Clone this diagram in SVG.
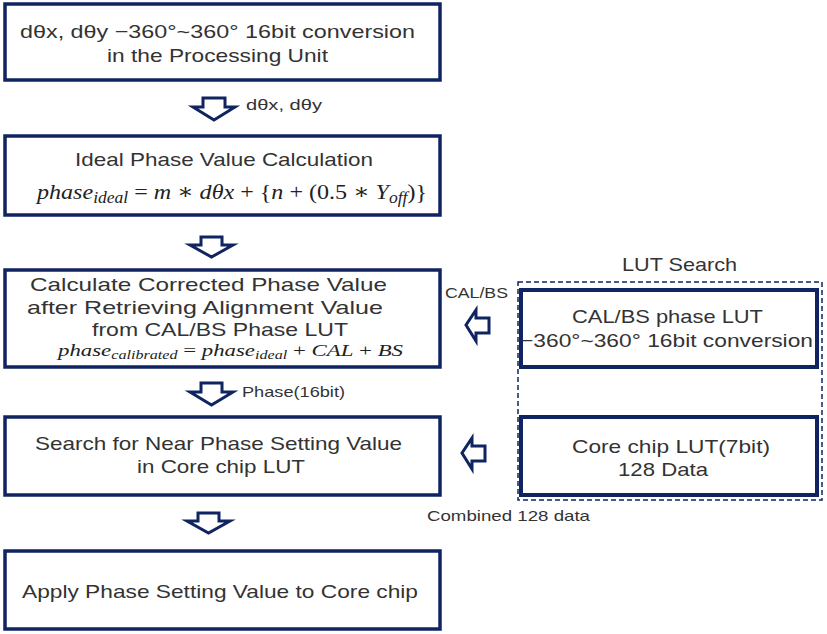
<svg xmlns="http://www.w3.org/2000/svg" width="827" height="634" viewBox="0 0 827 634">
<style>
.box{fill:#fff;stroke:#0f2461;stroke-width:3.5}
.lut{fill:#fff;stroke:#0f2461;stroke-width:4}
.dash{fill:none;stroke:#0f2461;stroke-width:1.5;stroke-dasharray:5,3}
.arr{fill:#fff;stroke:#0f2461;stroke-width:3;stroke-linejoin:miter}
.t{font-family:"Liberation Sans",Arial,sans-serif;font-size:19px;fill:#333;text-anchor:start}
.s{font-family:"Liberation Sans",Arial,sans-serif;font-size:15px;fill:#333}
.m{font-family:"Liberation Serif","DejaVu Serif",serif;font-style:italic;fill:#222}
.u{font-style:normal}
</style>
<rect width="827" height="634" fill="#fff"/>
<g id="n1">
<rect class="box" x="5" y="4" width="435" height="76"/>
<text class="t" x="20" y="38" textLength="395" lengthAdjust="spacingAndGlyphs">dθx, dθy −360°~360° 16bit conversion</text>
<text class="t" x="107" y="62" textLength="221" lengthAdjust="spacingAndGlyphs">in the Processing Unit</text>
</g>
<g id="n2">
<rect class="box" x="5" y="136" width="435" height="79"/>
<text class="t" x="75" y="166" textLength="298" lengthAdjust="spacingAndGlyphs">Ideal Phase Value Calculation</text>
<text class="m" x="37" y="199" font-size="22" textLength="390" lengthAdjust="spacingAndGlyphs">phase<tspan font-size="16" dy="4">ideal</tspan><tspan class="u" dy="-4"> = </tspan>m<tspan class="u"> ∗ </tspan>dθx<tspan class="u"> + {</tspan>n<tspan class="u"> + (0.5 ∗ </tspan>Y<tspan font-size="16" dy="4">off</tspan><tspan class="u" dy="-4">)}</tspan></text>
</g>
<g id="n3">
<rect class="box" x="5" y="270" width="435" height="97"/>
<text class="t" x="30" y="291" font-size="18" textLength="357" lengthAdjust="spacingAndGlyphs">Calculate Corrected Phase Value</text>
<text class="t" x="27" y="314" font-size="18" textLength="356" lengthAdjust="spacingAndGlyphs">after Retrieving Alignment Value</text>
<text class="t" x="92" y="336" font-size="18" textLength="256" lengthAdjust="spacingAndGlyphs">from CAL/BS Phase LUT</text>
<text class="m" x="58" y="356" font-size="17" textLength="345" lengthAdjust="spacingAndGlyphs">phase<tspan font-size="12" dy="3">calibrated</tspan><tspan class="u" dy="-3"> = </tspan>phase<tspan font-size="12" dy="3">ideal</tspan><tspan class="u" dy="-3"> + </tspan>CAL<tspan class="u"> + </tspan>BS</text>
</g>
<g id="n4">
<rect class="box" x="5" y="417" width="435" height="78"/>
<text class="t" x="35" y="450" textLength="367" lengthAdjust="spacingAndGlyphs">Search for Near Phase Setting Value</text>
<text class="t" x="137" y="473" textLength="168" lengthAdjust="spacingAndGlyphs">in Core chip LUT</text>
</g>
<g id="n5">
<rect class="box" x="5" y="551" width="435" height="78"/>
<text class="t" x="22" y="598" textLength="396" lengthAdjust="spacingAndGlyphs">Apply Phase Setting Value to Core chip</text>
</g>
<g id="lutgroup">
<rect class="dash" x="518" y="282" width="304" height="218"/>
<text class="t" x="622" y="271" textLength="115" lengthAdjust="spacingAndGlyphs">LUT Search</text>
</g>
<g id="lut1">
<rect class="lut" x="521" y="290" width="296" height="77"/>
<text class="t" x="572" y="323" textLength="191" lengthAdjust="spacingAndGlyphs">CAL/BS phase LUT</text>
<text class="t" x="520" y="347" textLength="293" lengthAdjust="spacingAndGlyphs">−360°~360° 16bit conversion</text>
</g>
<g id="lut2">
<rect class="lut" x="521" y="417" width="296" height="78"/>
<text class="t" x="572" y="453" textLength="198" lengthAdjust="spacingAndGlyphs">Core chip LUT(7bit)</text>
<text class="t" x="618" y="476" textLength="90" lengthAdjust="spacingAndGlyphs">128 Data</text>
</g>
<g id="connectors">
<polygon class="arr" points="203,98 225,98 225,107 235,107 214,120 193,107 203,107"/>
<polygon class="arr" points="201,237 222,237 222,245 233,245 211.5,257 190,245 201,245"/>
<polygon class="arr" points="201,383 222,383 222,392 233,392 211.5,405 190,392 201,392"/>
<polygon class="arr" points="198,513 219,513 219,521 230,521 208.5,533 187,521 198,521"/>
<polygon class="arr" points="489,318 476,318 476,310 466,325 476,341 476,333 489,333"/>
<polygon class="arr" points="485,446 472,446 472,438 462,453 472,469 472,461 485,461"/>
<text class="s" x="246" y="110" textLength="76" lengthAdjust="spacingAndGlyphs">dθx, dθy</text>
<text class="s" x="242" y="397" textLength="103" lengthAdjust="spacingAndGlyphs">Phase(16bit)</text>
<text class="s" x="445" y="298" textLength="63" lengthAdjust="spacingAndGlyphs">CAL/BS</text>
<text class="s" x="427" y="521" textLength="163" lengthAdjust="spacingAndGlyphs">Combined 128 data</text>
</g>
</svg>
